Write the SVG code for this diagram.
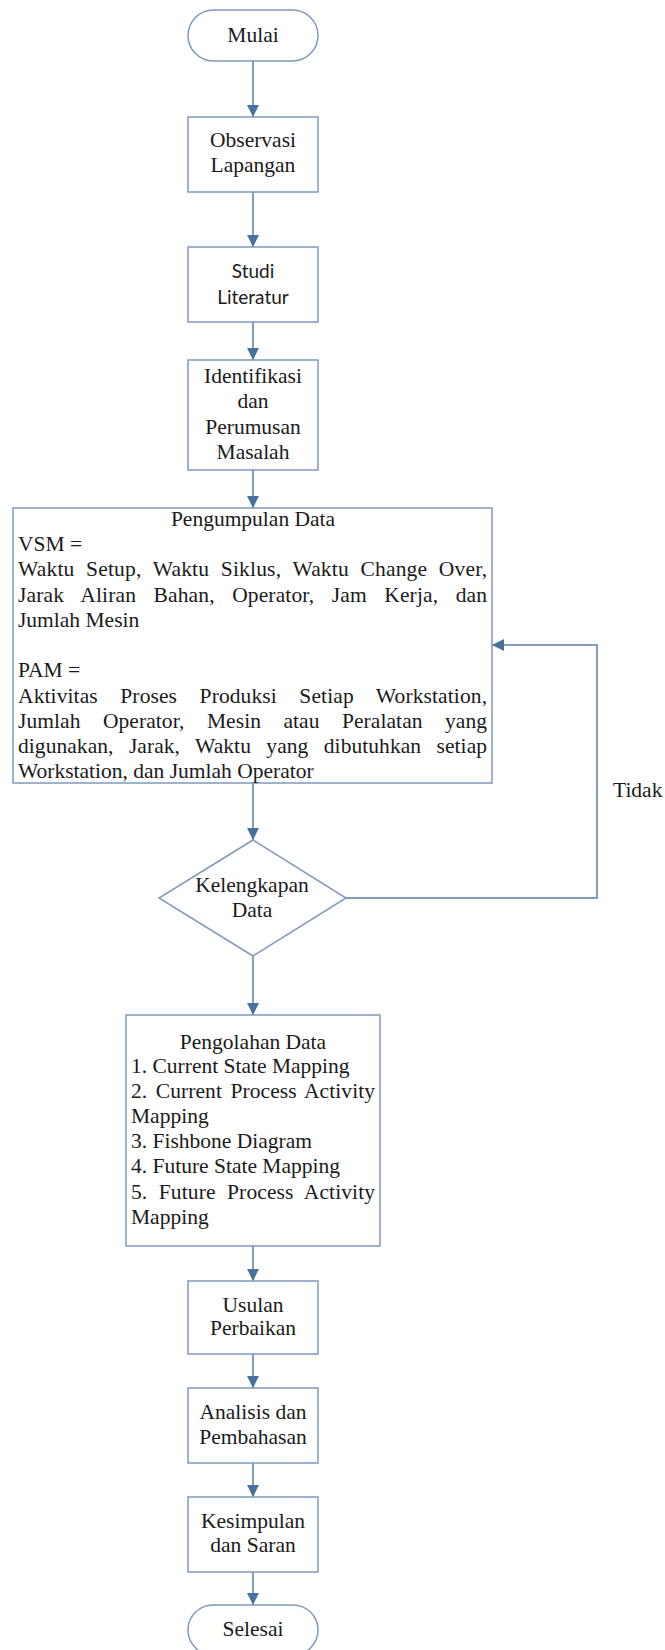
<svg xmlns="http://www.w3.org/2000/svg" width="665" height="1650" viewBox="0 0 665 1650">
<defs>
<style>
.box{fill:#ffffff;stroke:#7f9aba;stroke-width:1.5}
.ln{fill:none;stroke:#5a7ca3;stroke-width:1.5}
.t{font-family:"Liberation Serif","Times New Roman",serif;font-size:21.5px;fill:#1a1a1a}
.c{text-anchor:middle}
.s{font-family:Lato,"Open Sans",sans-serif;font-size:19px;fill:#1a1a1a;text-anchor:middle}
</style>
<marker id="ah" viewBox="0 0 12 12" refX="12" refY="6" markerWidth="12" markerHeight="12" markerUnits="userSpaceOnUse" orient="auto">
<path d="M0,0 L12,6 L0,12 Z" fill="#4a719c"/>
</marker>
</defs>
<rect width="665" height="1650" fill="#ffffff"/>

<g id="connectors">
<line class="ln" x1="253" y1="61" x2="253" y2="117" marker-end="url(#ah)"/>
<line class="ln" x1="253" y1="192" x2="253" y2="247" marker-end="url(#ah)"/>
<line class="ln" x1="253" y1="322" x2="253" y2="360" marker-end="url(#ah)"/>
<line class="ln" x1="253" y1="470" x2="253" y2="508" marker-end="url(#ah)"/>
<line class="ln" x1="253" y1="783" x2="253" y2="840" marker-end="url(#ah)"/>
<line class="ln" x1="253" y1="956" x2="253" y2="1015" marker-end="url(#ah)"/>
<polyline class="ln" points="346,898 597,898 597,645 492,645" marker-end="url(#ah)"/>
<line class="ln" x1="253" y1="1246" x2="253" y2="1281" marker-end="url(#ah)"/>
<line class="ln" x1="253" y1="1354" x2="253" y2="1388" marker-end="url(#ah)"/>
<line class="ln" x1="253" y1="1463" x2="253" y2="1497" marker-end="url(#ah)"/>
<line class="ln" x1="253" y1="1572" x2="253" y2="1605" marker-end="url(#ah)"/>
<text class="t" x="613" y="797">Tidak</text>
</g>

<g id="mulai">
<rect class="box" x="188" y="10" width="130" height="51" rx="25.5"/>
<text class="t c" x="253" y="42">Mulai</text>
</g>

<g id="observasi">
<rect class="box" x="188" y="117" width="130" height="75"/>
<text class="t c" x="253" y="147">Observasi</text>
<text class="t c" x="253" y="172">Lapangan</text>
</g>

<g id="studi">
<rect class="box" x="188" y="247" width="130" height="75"/>
<text class="s" x="253" y="278">Studi</text>
<text class="s" x="253" y="304">Literatur</text>
</g>

<g id="identifikasi">
<rect class="box" x="188" y="360" width="130" height="110"/>
<text class="t c" x="253" y="383">Identifikasi</text>
<text class="t c" x="253" y="408">dan</text>
<text class="t c" x="253" y="434">Perumusan</text>
<text class="t c" x="253" y="459">Masalah</text>
</g>

<g id="pengumpulan">
<rect class="box" x="13" y="508" width="479" height="275"/>
<text class="t c" x="253" y="526">Pengumpulan Data</text>
<text class="t" x="18" y="551">VSM =</text>
<text class="t" x="18" y="576" word-spacing="6" textLength="469" lengthAdjust="spacing">Waktu Setup, Waktu Siklus, Waktu Change Over,</text>
<text class="t" x="18" y="602" word-spacing="12" textLength="469" lengthAdjust="spacing">Jarak Aliran Bahan, Operator, Jam Kerja, dan</text>
<text class="t" x="18" y="627">Jumlah Mesin</text>
<text class="t" x="18" y="677">PAM =</text>
<text class="t" x="18" y="703" word-spacing="17" textLength="469" lengthAdjust="spacing">Aktivitas Proses Produksi Setiap Workstation,</text>
<text class="t" x="18" y="728" word-spacing="17" textLength="469" lengthAdjust="spacing">Jumlah Operator, Mesin atau Peralatan yang</text>
<text class="t" x="18" y="753" word-spacing="10" textLength="469" lengthAdjust="spacing">digunakan, Jarak, Waktu yang dibutuhkan setiap</text>
<text class="t" x="18" y="778">Workstation, dan Jumlah Operator</text>
</g>

<g id="kelengkapan">
<polygon class="box" points="253,840 346,898 253,956 159,898"/>
<text class="t c" x="252" y="892">Kelengkapan</text>
<text class="t c" x="252" y="917">Data</text>
</g>

<g id="pengolahan">
<rect class="box" x="126" y="1015" width="254" height="231"/>
<text class="t c" x="253" y="1049">Pengolahan Data</text>
<text class="t" x="131" y="1073">1. Current State Mapping</text>
<text class="t" x="131" y="1098" word-spacing="3" textLength="244" lengthAdjust="spacing">2. Current Process Activity</text>
<text class="t" x="131" y="1123">Mapping</text>
<text class="t" x="131" y="1148">3. Fishbone Diagram</text>
<text class="t" x="131" y="1173">4. Future State Mapping</text>
<text class="t" x="131" y="1199" word-spacing="6" textLength="244" lengthAdjust="spacing">5. Future Process Activity</text>
<text class="t" x="131" y="1224">Mapping</text>
</g>

<g id="usulan">
<rect class="box" x="188" y="1281" width="130" height="73"/>
<text class="t c" x="253" y="1312">Usulan</text>
<text class="t c" x="253" y="1335">Perbaikan</text>
</g>

<g id="analisis">
<rect class="box" x="188" y="1388" width="130" height="75"/>
<text class="t c" x="253" y="1419">Analisis dan</text>
<text class="t c" x="253" y="1444">Pembahasan</text>
</g>

<g id="kesimpulan">
<rect class="box" x="188" y="1497" width="130" height="75"/>
<text class="t c" x="253" y="1528">Kesimpulan</text>
<text class="t c" x="253" y="1552">dan Saran</text>
</g>

<g id="selesai">
<rect class="box" x="188" y="1605" width="130" height="50" rx="25"/>
<text class="t c" x="253" y="1636">Selesai</text>
</g>
</svg>
